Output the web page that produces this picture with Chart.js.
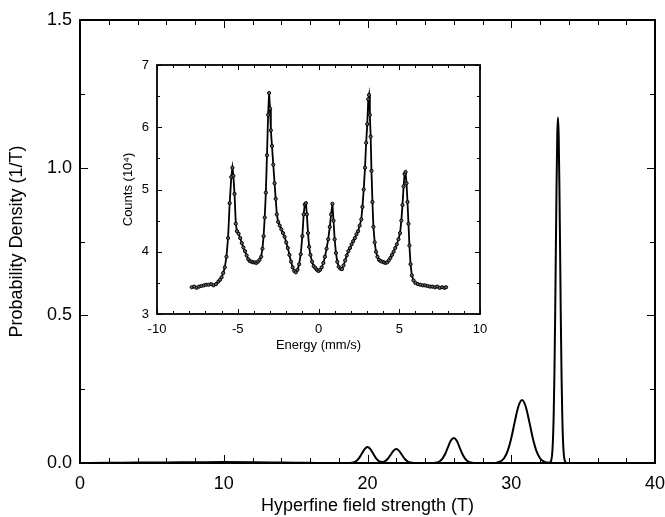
<!DOCTYPE html>
<html>
<head>
<meta charset="utf-8">
<script src="https://cdn.jsdelivr.net/npm/chart.js@4/dist/chart.umd.min.js"></script>
<style>
  html, body { margin: 0; padding: 0; background: #fff; }
  #wrap { position: relative; width: 665px; height: 517px; }
  #mainChart { position: absolute; left: 0; top: 0; }
  #insetChart { position: absolute; left: 110px; top: 55px; }
</style>
</head>
<body>
<div id="wrap">
  <canvas id="mainChart" width="665" height="517"></canvas>
  <canvas id="insetChart" width="380" height="300"></canvas>
</div>
<script>
// main plot: hyperfine field distribution
let fieldT = [
  0, 2, 4, 6, 8, 10, 12, 14, 16, 17,
  18, 18.6, 18.8, 19.0, 19.2, 19.4, 19.6, 19.8, 20.0, 20.2,
  20.4, 20.6, 20.8, 21.0, 21.2, 21.4, 21.6, 21.8, 22.0, 22.2,
  22.4, 22.6, 22.8, 23.0, 23.2, 23.6, 24.0, 24.4, 24.6, 24.8,
  25.0, 25.2, 25.4, 25.6, 25.8, 26.0, 26.2, 26.4, 26.6, 26.8,
  27.0, 27.2, 27.4, 27.8, 28.2, 28.5, 28.75, 29.0, 29.25, 29.5,
  29.75, 30.0, 30.25, 30.5, 30.75, 31.0, 31.25, 31.5, 31.75, 32.0,
  32.25, 32.5, 32.65, 32.75, 32.8, 32.85, 32.9, 32.95, 33.0, 33.05,
  33.1, 33.15, 33.2, 33.25, 33.3, 33.35, 33.4, 33.45, 33.5, 33.55,
  33.6, 33.65, 33.7, 33.75, 33.85, 34.0, 35, 36, 38, 40
];
let density = [
  0.000, 0.0005, 0.0015, 0.002, 0.0025, 0.003, 0.0025, 0.0015, 0.0005, 0.000,
  0.000, 0.0001, 0.0004, 0.0017, 0.0059, 0.0155, 0.031, 0.047, 0.054, 0.047,
  0.031, 0.0155, 0.0061, 0.0032, 0.0055, 0.0135, 0.027, 0.041, 0.047, 0.041,
  0.027, 0.0135, 0.0051, 0.0015, 0.0003, 0, 0, 0, 0.0003, 0.0014,
  0.005, 0.0139, 0.0306, 0.054, 0.076, 0.085, 0.076, 0.054, 0.0306, 0.0139,
  0.005, 0.0014, 0.0003, 0, 0, 0, 0.0003, 0.0013, 0.0052, 0.016,
  0.041, 0.084, 0.141, 0.192, 0.213, 0.192, 0.141, 0.084, 0.041, 0.016,
  0.0052, 0.0013, 0.001, 0.005, 0.013, 0.033, 0.077, 0.158, 0.292, 0.481,
  0.710, 0.937, 1.107, 1.17, 1.107, 0.937, 0.710, 0.481, 0.292, 0.158,
  0.077, 0.033, 0.013, 0.0045, 0.0004, 0, 0, 0, 0, 0
];

// inset: Mossbauer spectrum
let energy = [
  -7.85, -7.7, -7.55, -7.4, -7.25, -7.1, -6.95, -6.8, -6.65, -6.5,
  -6.35, -6.2, -6.1, -6.0, -5.9, -5.8, -5.7, -5.6, -5.5, -5.4,
  -5.33, -5.27, -5.2, -5.12, -5.05, -4.95, -4.85, -4.75, -4.65, -4.55,
  -4.45, -4.35, -4.25, -4.15, -4.05, -3.95, -3.85, -3.75, -3.65, -3.55,
  -3.47, -3.4, -3.33, -3.26, -3.19, -3.12, -3.06, -3.0, -2.95, -2.88,
  -2.8, -2.72, -2.65, -2.58, -2.5, -2.4, -2.3, -2.2, -2.1, -2.0,
  -1.9, -1.8, -1.7, -1.6, -1.5, -1.4, -1.3, -1.2, -1.1, -1.0,
  -0.92, -0.85, -0.78, -0.72, -0.65, -0.58, -0.5, -0.4, -0.3, -0.2,
  -0.1, 0.0, 0.1, 0.2, 0.3, 0.4, 0.5, 0.6, 0.7, 0.78,
  0.86, 0.93, 1.0, 1.08, 1.16, 1.25, 1.35, 1.45, 1.55, 1.65,
  1.75, 1.85, 1.95, 2.05, 2.15, 2.25, 2.35, 2.45, 2.55, 2.65,
  2.72, 2.8, 2.88, 2.95, 3.02, 3.08, 3.13, 3.18, 3.23, 3.28,
  3.34, 3.4, 3.48, 3.56, 3.65, 3.75, 3.85, 3.95, 4.05, 4.15,
  4.25, 4.35, 4.45, 4.55, 4.65, 4.75, 4.85, 4.95, 5.05, 5.13,
  5.2, 5.27, 5.33, 5.39, 5.45, 5.51, 5.57, 5.63, 5.7, 5.78,
  5.88, 6.0, 6.15, 6.3, 6.45, 6.6, 6.75, 6.9, 7.05, 7.2,
  7.35, 7.5, 7.65, 7.8, 7.9
];
let counts = [
  3.43, 3.44, 3.42, 3.44, 3.45, 3.46, 3.47, 3.47, 3.48, 3.46,
  3.48, 3.52, 3.55, 3.59, 3.66, 3.75, 3.92, 4.22, 4.78, 5.2,
  5.35, 5.22, 4.93, 4.45, 4.33, 4.29, 4.22, 4.14, 4.07, 4.01,
  3.94, 3.88, 3.85, 3.84, 3.83, 3.83, 3.82, 3.84, 3.87, 3.92,
  4.05, 4.25, 4.55, 4.95, 5.55, 6.2, 6.55, 6.3, 5.95, 5.7,
  5.4, 5.1, 4.85, 4.6, 4.48, 4.42, 4.36, 4.3, 4.24, 4.15,
  4.06, 3.95, 3.84, 3.75, 3.69, 3.67, 3.71, 3.8, 3.96, 4.25,
  4.6, 4.76, 4.78, 4.6, 4.3, 4.08, 3.95, 3.84, 3.77, 3.74,
  3.71, 3.69, 3.71, 3.75, 3.82, 3.92, 4.05, 4.2, 4.4, 4.6,
  4.77, 4.5, 4.2, 3.98, 3.84, 3.76, 3.73, 3.72, 3.78, 3.86,
  3.94, 4.01, 4.06, 4.12, 4.17, 4.22, 4.28, 4.33, 4.42, 4.52,
  4.72, 5.0, 5.35, 5.75, 6.05, 6.45, 6.52, 6.2, 5.85, 5.3,
  4.8, 4.4, 4.15, 4.0, 3.92, 3.87, 3.85, 3.84, 3.83, 3.82,
  3.83, 3.86, 3.9, 3.95, 4.0, 4.06, 4.12, 4.2, 4.3, 4.5,
  4.75, 5.05, 5.25, 5.28, 5.1, 4.8, 4.45, 4.1, 3.8, 3.62,
  3.54, 3.5, 3.48, 3.47, 3.46, 3.46, 3.45, 3.44, 3.44, 3.43,
  3.44, 3.42, 3.43, 3.42, 3.43
];

// tick positions (drawn inward)
let mainXMajor = [0, 10, 20, 30, 40];
let mainXMinor = [2, 4, 6, 8, 12, 14, 16, 18, 22, 24, 26, 28, 32, 34, 36, 38];
let mainYMajor = [0, 0.5, 1.0, 1.5];
let mainYMinor = [0.25, 0.75, 1.25];
let insetXMajor = [-10, -5, 0, 5, 10];
let insetXMinor = [-9, -8, -7, -6, -4, -3, -2, -1, 1, 2, 3, 4, 6, 7, 8, 9];
let insetYMajor = [3, 4, 5, 6, 7];
let insetYMinor = [3.5, 4.5, 5.5, 6.5];

const FONT = "'Liberation Sans', Arial, Helvetica, sans-serif";

const whiteBg = {
  id: 'whiteBg',
  beforeDraw(chart) {
    const ctx = chart.ctx;
    ctx.save();
    ctx.fillStyle = '#fff';
    ctx.fillRect(0, 0, chart.width, chart.height);
    ctx.restore();
  }
};

// box around the plot + ticks pointing into the plot on all 4 sides
const inwardTicks = {
  id: 'inwardTicks',
  afterDraw(chart, args, o) {
    const ctx = chart.ctx;
    const a = chart.chartArea;
    const x = chart.scales.x, y = chart.scales.y;
    ctx.save();
    ctx.strokeStyle = '#000';
    ctx.lineWidth = o.tickWidth;
    ctx.beginPath();
    const xt = (v, len) => {
      const px = Math.round(x.getPixelForValue(v)) + 0.5;
      ctx.moveTo(px, a.bottom); ctx.lineTo(px, a.bottom - len);
      ctx.moveTo(px, a.top); ctx.lineTo(px, a.top + len);
    };
    const yt = (v, len) => {
      const py = Math.round(y.getPixelForValue(v)) + 0.5;
      ctx.moveTo(a.left, py); ctx.lineTo(a.left + len, py);
      ctx.moveTo(a.right, py); ctx.lineTo(a.right - len, py);
    };
    o.xMajor.forEach(v => xt(v, o.major));
    o.xMinor.forEach(v => xt(v, o.minor));
    o.yMajor.forEach(v => yt(v, o.major));
    o.yMinor.forEach(v => yt(v, o.minor));
    ctx.stroke();
    ctx.lineWidth = o.boxWidth;
    ctx.strokeRect(a.left, a.top, a.right - a.left, a.bottom - a.top);
    ctx.restore();
  }
};

function toPoints(xs, ys) {
  return xs.map((v, i) => ({ x: v, y: ys[i] }));
}

// fixed axis box sizes, no automatic label padding
function fixX(h) {
  return s => { s.height = h; s.paddingLeft = 0; s.paddingRight = 0; };
}
function fixY(w) {
  return s => { s.width = w; s.paddingTop = 0; s.paddingBottom = 0; };
}

new Chart(document.getElementById('mainChart'), {
  type: 'line',
  data: {
    datasets: [{
      data: toPoints(fieldT, density),
      borderColor: '#000',
      borderWidth: 2,
      pointRadius: 0,
      cubicInterpolationMode: 'monotone',
      fill: false
    }]
  },
  options: {
    responsive: false,
    animation: false,
    layout: { padding: { left: 2, right: 10, top: 20, bottom: 0 } },
    plugins: {
      legend: { display: false },
      tooltip: { enabled: false },
      inwardTicks: {
        xMajor: mainXMajor, xMinor: mainXMinor,
        yMajor: mainYMajor, yMinor: mainYMinor,
        major: 8, minor: 5, tickWidth: 1, boxWidth: 2
      }
    },
    scales: {
      x: {
        type: 'linear', min: 0, max: 40,
        grid: { display: false, drawTicks: false },
        border: { display: false },
        ticks: { stepSize: 10, color: '#000', padding: 10, maxRotation: 0,
                 font: { family: FONT, size: 18 } },
        title: { display: true, text: 'Hyperfine field strength (T)', color: '#000',
                 padding: { top: 0, bottom: 0 }, font: { family: FONT, size: 18 } },
        afterFit: fixX(54)
      },
      y: {
        min: 0, max: 1.5,
        grid: { display: false, drawTicks: false },
        border: { display: false },
        ticks: { stepSize: 0.5, color: '#000', padding: 8,
                 font: { family: FONT, size: 18 },
                 callback: v => v.toFixed(1) },
        title: { display: true, text: 'Probability Density (1/T)', color: '#000',
                 padding: { top: 4, bottom: 4 }, font: { family: FONT, size: 18 } },
        afterFit: fixY(78)
      }
    }
  },
  plugins: [whiteBg, inwardTicks]
});

new Chart(document.getElementById('insetChart'), {
  type: 'line',
  data: {
    datasets: [{
      data: toPoints(energy, counts),
      borderColor: '#000',
      borderWidth: 1.8,
      pointRadius: 1.6,
      pointBorderWidth: 1,
      pointBorderColor: '#000',
      pointBackgroundColor: '#666',
      tension: 0,
      fill: false
    }]
  },
  options: {
    responsive: false,
    animation: false,
    layout: { padding: { left: 7, right: 10, top: 10, bottom: 0 } },
    plugins: {
      legend: { display: false },
      tooltip: { enabled: false },
      inwardTicks: {
        xMajor: insetXMajor, xMinor: insetXMinor,
        yMajor: insetYMajor, yMinor: insetYMinor,
        major: 5, minor: 3, tickWidth: 1, boxWidth: 1.8
      }
    },
    scales: {
      x: {
        type: 'linear', min: -10, max: 10,
        grid: { display: false, drawTicks: false },
        border: { display: false },
        ticks: { stepSize: 5, color: '#000', padding: 8, maxRotation: 0,
                 font: { family: FONT, size: 13 } },
        title: { display: true, text: 'Energy (mm/s)', color: '#000',
                 padding: { top: 0, bottom: 2 }, font: { family: FONT, size: 13 } },
        afterFit: fixX(41)
      },
      y: {
        min: 3, max: 7,
        grid: { display: false, drawTicks: false },
        border: { display: false },
        ticks: { stepSize: 1, color: '#000', padding: 8,
                 font: { family: FONT, size: 13 } },
        title: { display: true, text: 'Counts (10\u2074)', color: '#000',
                 padding: { top: 4, bottom: 4 }, font: { family: FONT, size: 13 } },
        afterFit: fixY(40)
      }
    }
  },
  plugins: [whiteBg, inwardTicks]
});
</script>
</body>
</html>
